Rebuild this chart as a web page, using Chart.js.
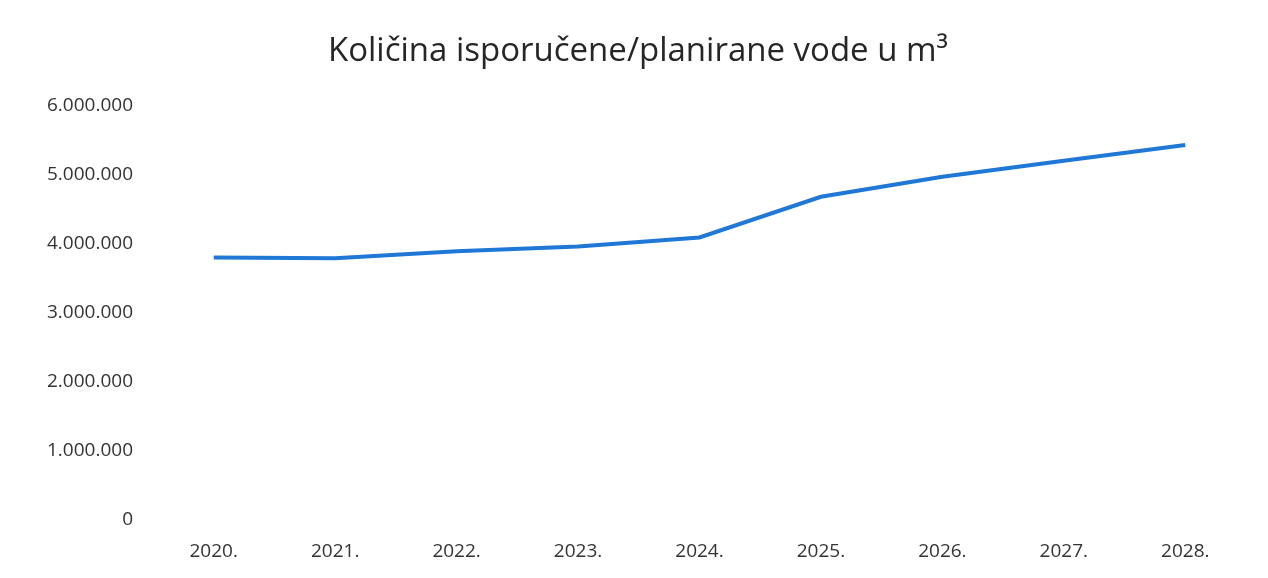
<!DOCTYPE html>
<html>
<head>
<meta charset="utf-8">
<script src="https://cdn.jsdelivr.net/npm/chart.js@4"></script>
<style>
  html, body { margin: 0; padding: 0; background: #fff; }
  #wrap { width: 1268px; height: 578px; }
</style>
</head>
<body>
<div id="wrap"><canvas id="waterChart"></canvas></div>
<script>
const years = ["2020.", "2021.", "2022.", "2023.", "2024.", "2025.", "2026.", "2027.", "2028."];
const waterVolume = [3800000, 3790000, 3890000, 3960000, 4090000, 4680000, 4970000, 5200000, 5430000];
const yTicks = [0, 1000000, 2000000, 3000000, 4000000, 5000000, 6000000];

function fmt(v) {
  return String(v).replace(/\B(?=(\d{3})+(?!\d))/g, ".");
}

document.addEventListener("DOMContentLoaded", function () {
  const canvas = document.getElementById("waterChart");
  new Chart(canvas, {
    type: "line",
    data: {
      labels: years,
      datasets: [
        {
          label: "Količina vode",
          data: waterVolume,
          borderColor: "#1f78d6",
          borderWidth: 4,
          pointRadius: 0,
          tension: 0,
          fill: false,
        },
      ],
    },
    options: {
      responsive: true,
      maintainAspectRatio: false,
      animation: false,
      layout: { padding: { left: 30, right: 22, top: 0, bottom: 0 } },
      plugins: {
        legend: { display: false },
        tooltip: { enabled: false },
        title: {
          display: true,
          text: "Količina isporučene/planirane vode u m³",
          color: "#262626",
          font: { family: "Open Sans", size: 33, weight: "normal" },
          padding: { top: 32, bottom: 34 },
        },
      },
      scales: {
        x: {
          offset: true,
          grid: { display: false },
          border: { display: false },
          afterFit: (scale) => {
            scale.height = 58;
          },
          ticks: {
            color: "#333",
            padding: 12,
            maxRotation: 0,
            font: { family: "Open Sans", size: 19 },
          },
        },
        y: {
          min: 0,
          max: 6000000,
          afterBuildTicks: (scale) => {
            scale.ticks = yTicks.map((v) => ({ value: v }));
          },
          afterFit: (scale) => {
            scale.width = 123;
          },
          grid: { display: false },
          border: { display: false },
          ticks: {
            color: "#333",
            padding: 12,
            font: { family: "Open Sans", size: 19 },
            callback: (val) => fmt(val),
          },
        },
      },
    },
  });
});
</script>
</body>
</html>
